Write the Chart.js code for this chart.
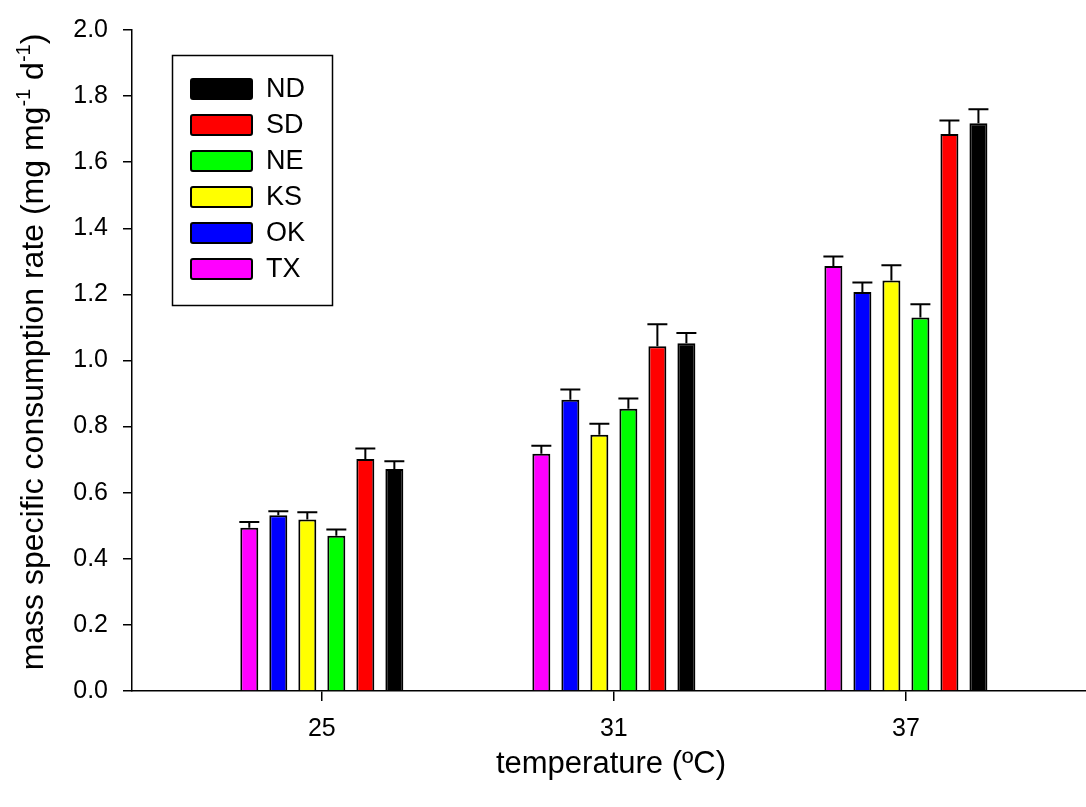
<!DOCTYPE html>
<html>
<head>
<meta charset="utf-8">
<script src="https://cdn.jsdelivr.net/npm/chart.js@4/dist/chart.umd.min.js"></script>
<style>
  html, body { margin: 0; padding: 0; background: #ffffff; }
  #wrap { width: 1086px; height: 807px; }
</style>
</head>
<body>
<div id="wrap"><canvas id="chart" width="1086" height="807"></canvas></div>
<script>
// Rearing temperature groups (ºC)
const temperatures = [25, 31, 37];
const yTicks = [0, 0.2, 0.4, 0.6, 0.8, 1.0, 1.2, 1.4, 1.6, 1.8, 2.0];

// Mean mass specific consumption rate per population (mg mg-1 d-1)
const TX = [0.494, 0.718, 1.286];
const OK = [0.532, 0.881, 1.207];
const KS = [0.519, 0.775, 1.242];
const NE = [0.470, 0.854, 1.130];
const SD = [0.702, 1.043, 1.685];
const ND = [0.672, 1.052, 1.718];

// Standard errors (upper whisker only)
const TX_se = [0.017, 0.024, 0.029];
const OK_se = [0.012, 0.031, 0.029];
const KS_se = [0.022, 0.034, 0.046];
const NE_se = [0.019, 0.031, 0.040];
const SD_se = [0.032, 0.067, 0.041];
const ND_se = [0.023, 0.031, 0.042];

const FONT = '"Liberation Sans", Arial, Helvetica, sans-serif';

function series(label, values, errors, color) {
  return {
    label,
    data: temperatures.map((t, i) => ({ x: t, y: values[i] })),
    errors,
    backgroundColor: color,
    borderColor: '#000000',
    borderWidth: 2,
    borderSkipped: 'bottom',
    barPercentage: 0.62,
    categoryPercentage: 0.596
  };
}

const datasets = [
  series('TX', TX, TX_se, '#ff00ff'),
  series('OK', OK, OK_se, '#0000ff'),
  series('KS', KS, KS_se, '#ffff00'),
  series('NE', NE, NE_se, '#00ff00'),
  series('SD', SD, SD_se, '#ff0000'),
  series('ND', ND, ND_se, '#000000')
];

// White page behind everything
const whiteBg = {
  id: 'whiteBg',
  beforeDraw(chart) {
    const { ctx, width, height } = chart;
    ctx.save();
    ctx.fillStyle = '#ffffff';
    ctx.fillRect(0, 0, width, height);
    ctx.restore();
  }
};

// Upper error whiskers with caps
const errorBars = {
  id: 'errorBars',
  afterDatasetsDraw(chart) {
    const { ctx } = chart;
    const y = chart.scales.y;
    ctx.save();
    ctx.strokeStyle = '#000000';
    ctx.lineWidth = 2;
    chart.data.datasets.forEach((ds, i) => {
      const meta = chart.getDatasetMeta(i);
      meta.data.forEach((bar, j) => {
        const v = ds.data[j].y;
        const top = y.getPixelForValue(v);
        const cap = y.getPixelForValue(v + ds.errors[j]);
        const half = bar.width / 2 + 1;
        ctx.beginPath();
        ctx.moveTo(bar.x, top);
        ctx.lineTo(bar.x, cap);
        ctx.moveTo(bar.x - half, cap);
        ctx.lineTo(bar.x + half, cap);
        ctx.stroke();
      });
    });
    ctx.restore();
  }
};

// Boxed legend inside the plot, northern populations first
const boxLegend = {
  id: 'boxLegend',
  afterDraw(chart) {
    const { ctx } = chart;
    ctx.save();
    ctx.strokeStyle = '#000000';
    ctx.lineWidth = 1.5;
    ctx.strokeRect(172.5, 55.5, 160, 250);
    const items = chart.data.datasets.slice().reverse();
    ctx.font = '27px ' + FONT;
    ctx.textBaseline = 'middle';
    ctx.textAlign = 'left';
    items.forEach((ds, i) => {
      const cy = 89 + i * 36;
      ctx.fillStyle = ds.backgroundColor;
      ctx.lineWidth = 2;
      ctx.beginPath();
      ctx.roundRect(191, cy - 10, 61, 20, 2);
      ctx.fill();
      ctx.stroke();
      ctx.fillStyle = '#000000';
      ctx.fillText(ds.label, 266, cy + 1);
    });
    ctx.restore();
  }
};

// Axis titles (y title carries superscript units)
const axisTitles = {
  id: 'axisTitles',
  afterDraw(chart) {
    const { ctx } = chart;
    ctx.save();
    ctx.fillStyle = '#000000';

    // x title
    ctx.font = '31px ' + FONT;
    ctx.textAlign = 'center';
    ctx.textBaseline = 'alphabetic';
    ctx.fillText('temperature (ºC)', 611, 773);

    // y title
    const size = 32, supSize = 20;
    const parts = [
      { t: 'mass specific consumption rate (mg mg', sup: false },
      { t: '-1', sup: true },
      { t: ' d', sup: false },
      { t: '-1', sup: true },
      { t: ')', sup: false }
    ];
    let total = 0;
    parts.forEach(p => {
      ctx.font = (p.sup ? supSize : size) + 'px ' + FONT;
      p.w = ctx.measureText(p.t).width;
      total += p.w;
    });
    ctx.translate(43, 352);
    ctx.rotate(-Math.PI / 2);
    ctx.textAlign = 'left';
    let x = -total / 2;
    parts.forEach(p => {
      ctx.font = (p.sup ? supSize : size) + 'px ' + FONT;
      ctx.fillText(p.t, x, p.sup ? -13 : 0);
      x += p.w;
    });
    ctx.restore();
  }
};

new Chart(document.getElementById('chart'), {
  type: 'bar',
  data: { datasets },
  options: {
    responsive: false,
    animation: false,
    devicePixelRatio: 1,
    layout: { padding: { top: 22, left: 0, right: 0, bottom: 0 } },
    plugins: {
      legend: { display: false },
      tooltip: { enabled: false }
    },
    scales: {
      x: {
        type: 'linear',
        min: 21.1,
        max: 40.7,
        offset: false,
        afterBuildTicks(scale) {
          scale.ticks = temperatures.map(v => ({ value: v }));
        },
        afterFit(scale) { scale.height = 116; },
        ticks: {
          color: '#000000',
          font: { family: FONT, size: 25 },
          padding: 13,
          maxRotation: 0,
          autoSkip: false,
          callback: v => String(v)
        },
        grid: {
          display: true,
          offset: false,
          drawOnChartArea: false,
          drawTicks: true,
          tickLength: 10,
          color: '#000000',
          lineWidth: 1.5
        },
        border: { display: true, color: '#000000', width: 1.5 }
      },
      y: {
        type: 'linear',
        min: 0,
        max: 2,
        afterBuildTicks(scale) {
          scale.ticks = yTicks.map(v => ({ value: v }));
        },
        afterFit(scale) { scale.width = 132; },
        ticks: {
          color: '#000000',
          font: { family: FONT, size: 25 },
          padding: 15,
          callback: v => Number(v).toFixed(1)
        },
        grid: {
          display: true,
          drawOnChartArea: false,
          drawTicks: true,
          tickLength: 9,
          color: '#000000',
          lineWidth: 1.5
        },
        border: { display: true, color: '#000000', width: 1.5 }
      }
    }
  },
  plugins: [whiteBg, errorBars, boxLegend, axisTitles]
});
</script>
</body>
</html>
